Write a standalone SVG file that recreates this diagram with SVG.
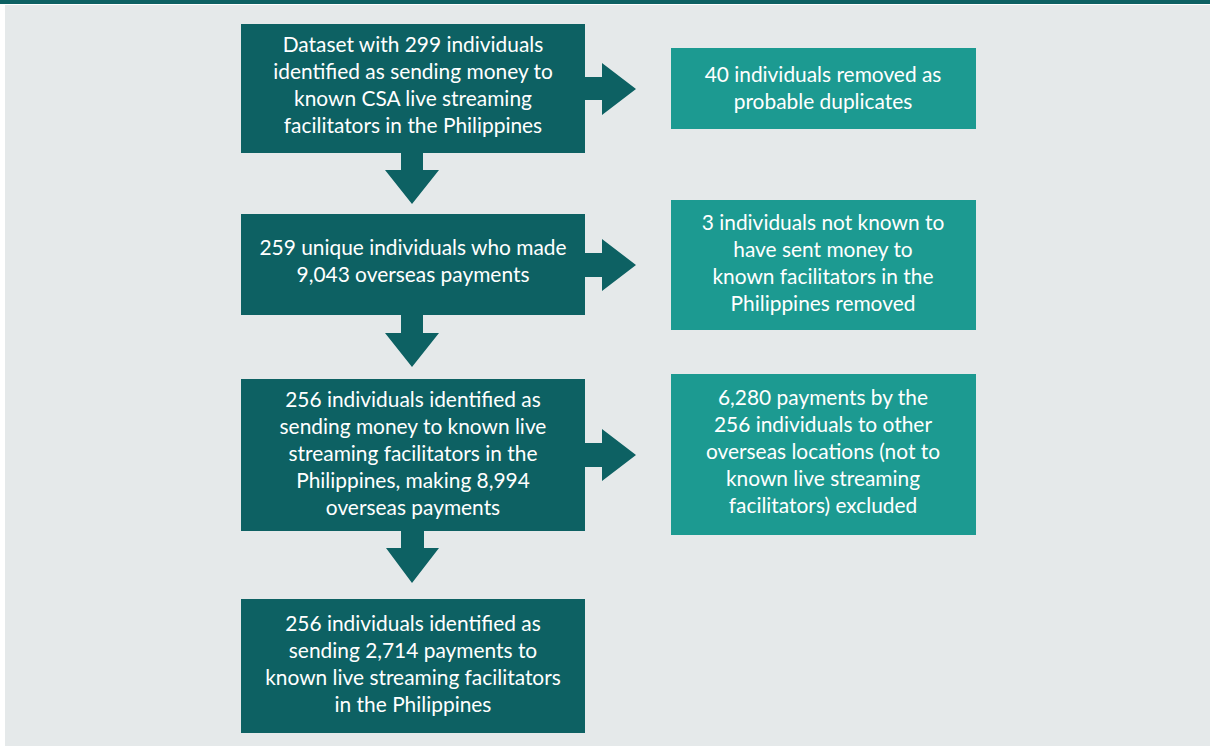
<svg xmlns="http://www.w3.org/2000/svg" width="1210" height="747" viewBox="0 0 1210 747">
<style>
.dark{fill:#0d6163}
.light{fill:#1c9a91}
.t{font-family:Lato,"Liberation Sans",sans-serif;font-size:20.9px;fill:#ffffff;text-anchor:middle}
</style>
<rect x="0" y="0" width="1210" height="747" fill="#ffffff"/>
<rect x="5" y="5" width="1205" height="741" fill="#e5e9ea"/>
<rect x="0" y="0" width="1210" height="4" fill="#0d6163"/>
<g id="connectors">
<polygon class="dark" points="585,77 602,77 602,63 636,89 602,115 602,100 585,100"/>
<polygon class="dark" points="585,253 602,253 602,239 636,265 602,291 602,277 585,277"/>
<polygon class="dark" points="585,443 602,443 602,429 636,455 602,481 602,467 585,467"/>
<polygon class="dark" points="401,153 423,153 423,170 439,170 412,204 385,170 401,170"/>
<polygon class="dark" points="401,315 423,315 423,333 439,333 412,367 385,333 401,333"/>
<polygon class="dark" points="401,531 424,531 424,548 439,548 412,583 386,548 401,548"/>
</g>
<g id="n1">
<rect class="dark" x="241" y="24" width="344" height="129"/>
<text class="t" x="413" y="52">Dataset with 299 individuals</text>
<text class="t" x="413" y="79">identified as sending money to</text>
<text class="t" x="413" y="106">known CSA live streaming</text>
<text class="t" x="413" y="133">facilitators in the Philippines</text>
</g>
<g id="n2">
<rect class="dark" x="241" y="214" width="344" height="101"/>
<text class="t" x="413" y="255">259 unique individuals who made</text>
<text class="t" x="413" y="282">9,043 overseas payments</text>
</g>
<g id="n3">
<rect class="dark" x="241" y="379" width="344" height="152"/>
<text class="t" x="413" y="407">256 individuals identified as</text>
<text class="t" x="413" y="434">sending money to known live</text>
<text class="t" x="413" y="461">streaming facilitators in the</text>
<text class="t" x="413" y="488">Philippines, making 8,994</text>
<text class="t" x="413" y="515">overseas payments</text>
</g>
<g id="n4">
<rect class="dark" x="241" y="599" width="344" height="134"/>
<text class="t" x="413" y="631">256 individuals identified as</text>
<text class="t" x="413" y="658">sending 2,714 payments to</text>
<text class="t" x="413" y="685">known live streaming facilitators</text>
<text class="t" x="413" y="712">in the Philippines</text>
</g>
<g id="r1">
<rect class="light" x="671" y="48" width="305" height="81"/>
<text class="t" x="823" y="82">40 individuals removed as</text>
<text class="t" x="823" y="109">probable duplicates</text>
</g>
<g id="r2">
<rect class="light" x="671" y="200" width="305" height="130"/>
<text class="t" x="823" y="230">3 individuals not known to</text>
<text class="t" x="823" y="257">have sent money to</text>
<text class="t" x="823" y="284">known facilitators in the</text>
<text class="t" x="823" y="311">Philippines removed</text>
</g>
<g id="r3">
<rect class="light" x="671" y="374" width="305" height="161"/>
<text class="t" x="823" y="405">6,280 payments by the</text>
<text class="t" x="823" y="432">256 individuals to other</text>
<text class="t" x="823" y="459">overseas locations (not to</text>
<text class="t" x="823" y="486">known live streaming</text>
<text class="t" x="823" y="513">facilitators) excluded</text>
</g>
</svg>
